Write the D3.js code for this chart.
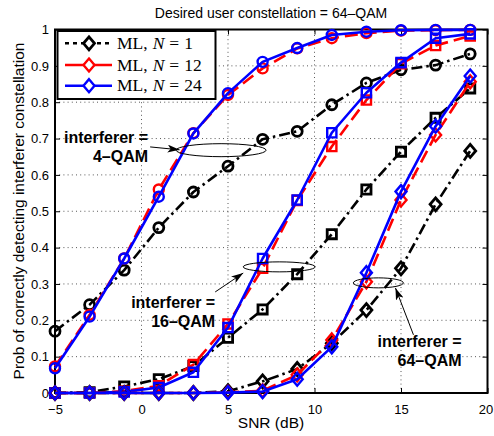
<!DOCTYPE html>
<html>
<head>
<meta charset="utf-8">
<script src="https://cdn.jsdelivr.net/npm/d3@7"></script>
<style>
body { margin: 0; background: #fff; }
svg { display: block; font-family: "Liberation Sans", Arial, sans-serif; }
</style>
</head>
<body>
<svg id="chart" width="494" height="436"></svg>
<script>
// SNR points (dB)
const snr = [-5, -3, -1, 1, 3, 5, 7, 9, 11, 13, 15, 17, 19];

// interferer = 4-QAM
const qam4N1 = [0.170, 0.243, 0.338, 0.455, 0.553, 0.624, 0.698, 0.720, 0.793, 0.853, 0.889, 0.902, 0.933];
const qam4N12 = [0.073, 0.215, 0.370, 0.560, 0.715, 0.820, 0.893, 0.948, 0.976, 0.990, 0.997, 0.998, 0.999];
const qam4N24 = [0.068, 0.210, 0.370, 0.540, 0.714, 0.825, 0.911, 0.949, 0.985, 0.994, 0.998, 0.999, 0.999];

// interferer = 16-QAM
const qam16N1 = [0.000, 0.002, 0.018, 0.038, 0.074, 0.152, 0.230, 0.327, 0.437, 0.560, 0.664, 0.757, 0.838];
const qam16N12 = [0.000, 0.000, 0.005, 0.020, 0.078, 0.190, 0.343, 0.530, 0.678, 0.806, 0.906, 0.956, 0.982];
const qam16N24 = [0.000, 0.000, 0.003, 0.015, 0.057, 0.180, 0.370, 0.531, 0.716, 0.826, 0.909, 0.976, 0.988];

// interferer = 64-QAM
const qam64N1 = [0.000, 0.000, 0.000, 0.000, 0.000, 0.005, 0.032, 0.066, 0.137, 0.228, 0.343, 0.519, 0.666];
const qam64N12 = [0.000, 0.000, 0.000, 0.000, 0.000, 0.002, 0.006, 0.050, 0.146, 0.306, 0.531, 0.710, 0.856];
const qam64N24 = [0.000, 0.000, 0.000, 0.000, 0.000, 0.001, 0.004, 0.038, 0.127, 0.331, 0.554, 0.734, 0.872];

const xTicks = [-5, 0, 5, 10, 15, 20];
const yTicks = [0, 0.1, 0.2, 0.3, 0.4, 0.5, 0.6, 0.7, 0.8, 0.9, 1];
const legendLabels = ["1", "12", "24"];

// annotation: label lines, text anchor, ellipse centre, arrow (data coords)
const notes = [
    { lines: ["interferer =", "4–QAM"], tx: 0.38, ty: [0.688, 0.636],
      ex: 4.6, ey: 0.668, rx: 45, ry: 6.5, from: [0.50, 0.677], to: [2.2, 0.669] },
    { lines: ["interferer =", "16–QAM"], tx: 4.26, ty: [0.235, 0.182],
      ex: 7.96, ey: 0.347, rx: 36, ry: 5, from: [4.26, 0.278], to: [5.88, 0.330] },
    { lines: ["interferer =", "64–QAM"], tx: 18.5, ty: [0.127, 0.074],
      ex: 13.69, ey: 0.303, rx: 25, ry: 5, from: [15.72, 0.160], to: [14.68, 0.289] }
];

const styles = {
    "1": { color: "#000", dash: "11,4,2.5,4", mw: 2.8 },
    "12": { color: "#ff0000", dash: "13,6", mw: 2.4 },
    "24": { color: "#0000ff", dash: null, mw: 2.4 }
};

const series = [
    { n: "1", marker: "circle", values: qam4N1 },
    { n: "12", marker: "circle", values: qam4N12 },
    { n: "24", marker: "circle", values: qam4N24 },
    { n: "1", marker: "square", values: qam16N1 },
    { n: "12", marker: "square", values: qam16N12 },
    { n: "24", marker: "square", values: qam16N24 },
    { n: "1", marker: "diamond", values: qam64N1 },
    { n: "12", marker: "diamond", values: qam64N12 },
    { n: "24", marker: "diamond", values: qam64N24 }
];

const svg = d3.select("#chart");
const x = d3.scaleLinear().domain([-5, 20]).range([55, 487.5]);
const y = d3.scaleLinear().domain([0, 1]).range([393, 29.5]);

addGrid();
addAxes();
addSeries();
addNotes();
addLegend();
addTexts();

function addGrid() {
    const g = svg.append("g").attr("class", "grid");
    g.selectAll(".vg").data(xTicks.slice(1, -1)).join("line")
        .attr("x1", d => x(d)).attr("x2", d => x(d))
        .attr("y1", y(0)).attr("y2", y(1));
    g.selectAll(".hg").data(yTicks.slice(1, -1)).join("line")
        .attr("x1", x(-5)).attr("x2", x(20))
        .attr("y1", d => y(d)).attr("y2", d => y(d));
    g.selectAll("line")
        .attr("stroke", "#222").attr("stroke-width", 1)
        .attr("stroke-dasharray", "1,3.2").attr("opacity", 0.75);
}

function addAxes() {
    const fmtY = d => d === 0 ? "0" : d === 1 ? "1" : d3.format(".1f")(d);
    const bottom = svg.append("g").attr("transform", `translate(0,${ y(0) })`)
        .call(d3.axisBottom(x).tickValues(xTicks).tickSize(-5).tickPadding(12));
    svg.append("g").attr("transform", `translate(${ x(-5) },0)`)
        .call(d3.axisLeft(y).tickValues(yTicks).tickSize(-5).tickPadding(6).tickFormat(fmtY));
    svg.append("g").attr("transform", `translate(0,${ y(1) })`)
        .call(d3.axisTop(x).tickValues(xTicks).tickSize(-5).tickFormat(""));
    svg.append("g").attr("transform", `translate(${ x(20) },0)`)
        .call(d3.axisRight(y).tickValues(yTicks).tickSize(-5).tickFormat(""));
    svg.selectAll(".domain").remove();
    svg.selectAll(".tick line").attr("stroke", "#000");
    svg.selectAll(".tick text").attr("fill", "#000")
        .style("font-family", "'Liberation Sans', Arial, sans-serif").style("font-size", "13px");
    // keep the last x label inside the page
    bottom.selectAll(".tick text").filter(d => d === 20).attr("dx", -2);
    svg.append("rect")
        .attr("x", x(-5)).attr("y", y(1))
        .attr("width", x(20) - x(-5)).attr("height", y(0) - y(1))
        .attr("fill", "none").attr("stroke", "#000").attr("stroke-width", 2);
}

function markerPath(type, cx, cy) {
    if (type === "circle") {
        const r = 5;
        return `M${ cx - r },${ cy }a${ r },${ r } 0 1,0 ${ 2 * r },0a${ r },${ r } 0 1,0 ${ -2 * r },0Z`;
    }
    if (type === "square") {
        const s = 4.6;
        return `M${ cx - s },${ cy - s }H${ cx + s }V${ cy + s }H${ cx - s }Z`;
    }
    const w = 5.5, h = 6.5;
    return `M${ cx },${ cy - h }L${ cx + w },${ cy }L${ cx },${ cy + h }L${ cx - w },${ cy }Z`;
}

function addSeries() {
    const line = d3.line().x((d, i) => x(snr[i])).y(d => y(d));
    const g = svg.append("g").attr("class", "series");
    series.forEach(s => {
        const st = styles[s.n];
        g.append("path")
            .attr("d", line(s.values))
            .attr("fill", "none").attr("stroke", st.color).attr("stroke-width", 2.6)
            .attr("stroke-dasharray", st.dash)
            .attr("stroke-linejoin", "round");
        g.append("g").selectAll("path").data(s.values).join("path")
            .attr("d", (d, i) => markerPath(s.marker, x(snr[i]), y(d)))
            .attr("fill", "none").attr("stroke", st.color).attr("stroke-width", st.mw);
    });
}

function addNotes() {
    svg.append("defs").append("marker")
        .attr("id", "arrow").attr("viewBox", "0 0 12 8")
        .attr("refX", 12).attr("refY", 4)
        .attr("markerWidth", 12).attr("markerHeight", 8)
        .attr("markerUnits", "userSpaceOnUse").attr("orient", "auto")
        .append("path").attr("d", "M0,0L12,4L0,8L3,4Z").attr("fill", "#000");
    const g = svg.append("g").attr("class", "notes");
    notes.forEach(n => {
        g.append("ellipse")
            .attr("cx", x(n.ex)).attr("cy", y(n.ey))
            .attr("rx", n.rx).attr("ry", n.ry)
            .attr("fill", "none").attr("stroke", "#000").attr("stroke-width", 1);
        g.append("line")
            .attr("x1", x(n.from[0])).attr("y1", y(n.from[1]))
            .attr("x2", x(n.to[0])).attr("y2", y(n.to[1]))
            .attr("stroke", "#000").attr("stroke-width", 1)
            .attr("marker-end", "url(#arrow)");
        n.lines.forEach((t, i) => {
            g.append("text")
                .attr("x", x(n.tx)).attr("y", y(n.ty[i]))
                .attr("text-anchor", "end")
                .style("font-size", "16px").style("font-weight", "bold")
                .text(t);
        });
    });
}

function addLegend() {
    const g = svg.append("g").attr("class", "legend");
    g.append("rect")
        .attr("x", 57.5).attr("y", 31).attr("width", 158).attr("height", 68)
        .attr("fill", "#fff").attr("stroke", "#000").attr("stroke-width", 2);
    const rows = [43.3, 65, 85.7];
    legendLabels.forEach((lab, i) => {
        const st = styles[lab];
        const cy = rows[i];
        g.append("line")
            .attr("x1", 65).attr("x2", 112).attr("y1", cy).attr("y2", cy)
            .attr("stroke", st.color).attr("stroke-width", 2.6)
            .attr("stroke-dasharray", lab === "1" ? "4,4" : null);
        g.append("path")
            .attr("d", markerPath("diamond", 89, cy))
            .attr("fill", "#fff").attr("stroke", st.color).attr("stroke-width", st.mw);
        const t = g.append("text")
            .attr("x", 117).attr("y", cy + 5.5)
            .style("font-family", "'Liberation Serif', 'Times New Roman', serif")
            .style("font-size", "17.5px");
        t.append("tspan").text("ML,");
        t.append("tspan").attr("dx", 5).style("font-style", "italic").text("N");
        t.append("tspan").attr("dx", 5).text("=");
        t.append("tspan").attr("dx", 5).text(lab);
    });
}

function addTexts() {
    svg.append("text")
        .attr("x", 271).attr("y", 18)
        .attr("text-anchor", "middle").style("font-size", "14px")
        .text("Desired user constellation = 64–QAM");
    svg.append("text")
        .attr("x", 271).attr("y", 428)
        .attr("text-anchor", "middle").style("font-size", "15.5px")
        .text("SNR (dB)");
    svg.append("text")
        .attr("transform", "translate(24,211) rotate(-90)")
        .attr("text-anchor", "middle").style("font-size", "15.5px")
        .text("Prob of correctly detecting interferer constellation");
}
</script>
</body>
</html>
